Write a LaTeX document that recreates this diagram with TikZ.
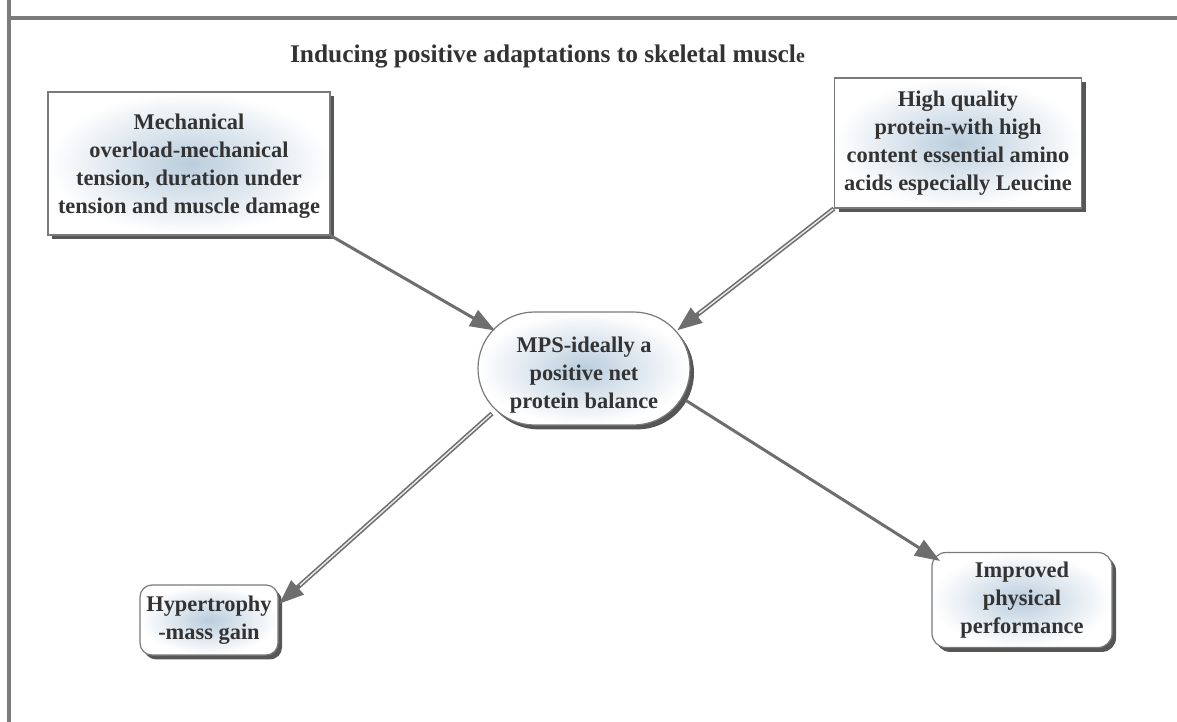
\documentclass[tikz,border=0pt]{standalone}
\usepackage{fontspec}
\setmainfont{Liberation Serif}
\usetikzlibrary{arrows.meta,shapes.misc,shadows,calc}
\definecolor{txt}{HTML}{333333}
\definecolor{edge}{HTML}{7A7A7A}
\definecolor{innerblue}{RGB}{186,205,221}
\definecolor{arr}{HTML}{6E6E6E}
\definecolor{frame}{HTML}{7C7C7C}
\begin{document}
\begin{tikzpicture}[x=0.5pt,y=-0.5pt,
  box/.style={draw=edge, line width=0.6pt, shading=radial, inner color=innerblue, outer color=white,
    text=txt, font=\bfseries\fontsize{11.2}{14}\selectfont, align=center, inner sep=0pt,
    drop shadow={shadow xshift=2pt, shadow yshift=-2.2pt, fill=black!78, opacity=0.85}},
  conn/.style={draw=arr, line width=1.5pt, -{Triangle[length=12.5pt,width=9pt]}},
  dconn/.style={draw=arr, line width=2.3pt, -{Triangle[length=12.5pt,width=9pt]}},
  dconnin/.style={draw=white!92!black, line width=0.7pt, shorten >=14pt, shorten <=0.5pt}]
\useasboundingbox (0,0) rectangle (1177,722);
% frame
\draw[frame, line width=1.6pt] (9,722) -- (9,0);
\draw[frame, line width=1.6pt] (9,18) -- (1177,18);
% title
\node[anchor=base, text=txt, font=\bfseries\fontsize{12.7}{14}\selectfont] (t) at (547.5,63)
  {Inducing positive adaptations to skeletal muscl{\fontsize{10}{12}\selectfont e}};
% nodes
\node[box, minimum width=141pt, minimum height=71.5pt] (b1) at (189,163.5)
  {\rule{0pt}{10pt}Mechanical\\overload-mechanical\\tension, duration under\\tension and muscle damage};
\node[box, minimum width=123.5pt, minimum height=65pt] (b2) at (958,143)
  {High quality\\protein-with high\\content essential amino\\acids especially Leucine};
\node[box, rounded rectangle, minimum width=106pt, minimum height=56.5pt] (c) at (584,368.5)
  {\rule{0pt}{14pt}MPS-ideally a\\positive net\\protein balance};
\node[box, rounded corners=6pt, minimum width=69pt, minimum height=35pt] (h) at (209,620)
  {Hypertrophy\\-mass gain};
\node[box, rounded corners=7pt, minimum width=90pt, minimum height=47.5pt] (p) at (1022,600)
  {Improved\\physical\\performance};
% connectors
\draw[conn] (b1.south east) -- ($(c.center)+(-89,-38)$);
\draw[dconn] (b2.south west) -- ($(c.center)+(93,-38)$);
\draw[dconnin] (b2.south west) -- ($(c.center)+(93,-38)$);
\draw[dconn] ($(c.center)+(-92,45)$) -- ($(h.center)+(70,-16)$);
\draw[dconnin] ($(c.center)+(-92,45)$) -- ($(h.center)+(70,-16)$);
\draw[conn] ($(c.center)+(102,32)$) -- ($(p.center)+(-82,-39)$);
\end{tikzpicture}
\end{document}
